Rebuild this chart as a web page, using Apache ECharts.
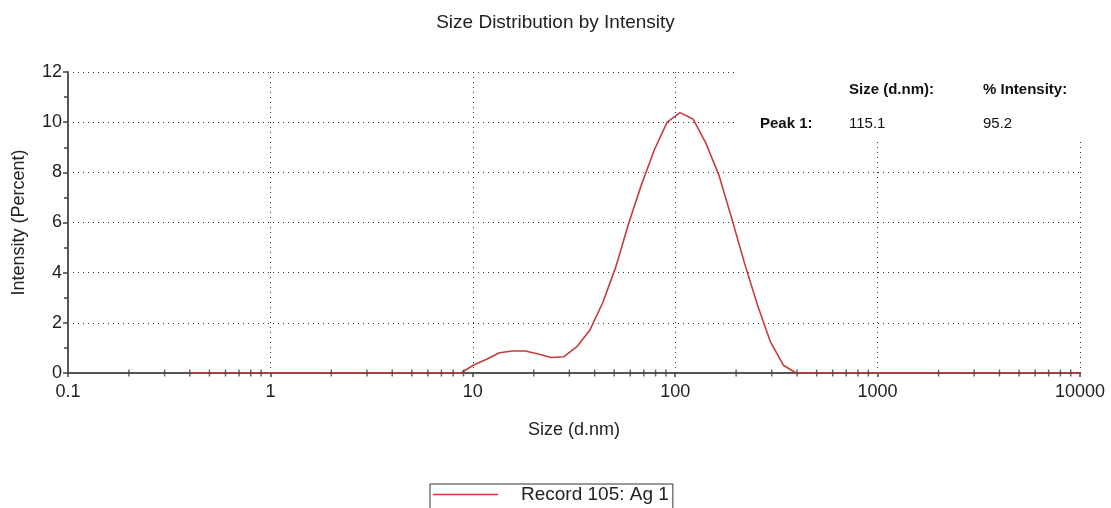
<!DOCTYPE html>
<html>
<head>
<meta charset="utf-8">
<script src="https://cdn.jsdelivr.net/npm/echarts@6/dist/echarts.min.js"></script>
<style>
html,body{margin:0;padding:0;background:#fff;}
#chart{width:1111px;height:508px;}
</style>
</head>
<body>
<div id="chart"></div>
<script>
// Size bins (d.nm) - standard logarithmic bins from 0.4 to 10000
var sizes = [0.4, 0.4632, 0.5365, 0.6213, 0.7195, 0.8332, 0.9649, 1.117, 1.294, 1.499,
  1.736, 2.01, 2.328, 2.696, 3.122, 3.615, 4.187, 4.849, 5.615, 6.503,
  7.531, 8.721, 10.1, 11.7, 13.54, 15.69, 18.17, 21.04, 24.36, 28.21,
  32.67, 37.84, 43.82, 50.75, 58.77, 68.06, 78.82, 91.28, 105.7, 122.4,
  141.8, 164.2, 190.1, 220.2, 255.0, 295.3, 342.0, 396.1, 458.7, 531.2,
  615.1, 712.4, 825.0, 955.4, 1106, 1281, 1484, 1718, 1990, 2305,
  2669, 3091, 3580, 4145, 4801, 5560, 6439, 7456, 8635, 10000];
// Intensity (%) per bin
var intensity = [0, 0, 0, 0, 0, 0, 0, 0, 0, 0,
  0, 0, 0, 0, 0, 0, 0, 0, 0, 0,
  0, 0, 0.32, 0.55, 0.81, 0.88, 0.88, 0.76, 0.62, 0.65,
  1.05, 1.7, 2.8, 4.2, 5.94, 7.5, 8.89, 10.0, 10.38, 10.13,
  9.16, 7.9, 6.17, 4.37, 2.71, 1.25, 0.31, 0, 0, 0,
  0, 0, 0, 0, 0, 0, 0, 0, 0, 0,
  0, 0, 0, 0, 0, 0, 0, 0, 0, 0];
var seriesName = 'Record 105: Ag 1';
var xTickLabels = ['0.1', '1', '10', '100', '1000', '10000'];
var peakHeaders = ['Size (d.nm):', '% Intensity:'];
var peakRowLabel = 'Peak 1:';
var peakValues = ['115.1', '95.2'];
var decades = [0.1, 1, 10, 100, 1000];
var minorMultipliers = [2, 3, 4, 5, 6, 7, 8, 9];

var lineData = sizes.map(function (s, i) { return [s, intensity[i]]; });
var minorTicks = [];
decades.forEach(function (d) {
  minorMultipliers.forEach(function (m) { minorTicks.push([d * m, 0]); });
});

var FONT = '"Liberation Sans", Arial, sans-serif';
var chart = echarts.init(document.getElementById('chart'));
chart.setOption({
  animation: false,
  backgroundColor: '#fff',
  textStyle: { fontFamily: FONT },
  title: {
    text: 'Size Distribution by Intensity',
    left: 'center',
    top: 8,
    textStyle: { fontFamily: FONT, fontSize: 19, fontWeight: 'normal', color: '#222' }
  },
  grid: { left: 68, right: 31, top: 72, bottom: 135, containLabel: false },
  legend: {
    left: 430,
    top: 484,
    orient: 'horizontal',
    padding: [1, 4, 30, 3],
    borderColor: '#333',
    borderWidth: 1,
    itemWidth: 65,
    itemHeight: 1.5,
    data: [{ name: seriesName, icon: 'rect' }],
    textStyle: { fontFamily: FONT, fontSize: 19, color: '#222', padding: [0, 0, 0, 18] }
  },
  xAxis: {
    type: 'log',
    logBase: 10,
    min: 0.1,
    max: 10000,
    name: 'Size (d.nm)',
    nameLocation: 'middle',
    nameGap: 48,
    nameTextStyle: { fontFamily: FONT, fontSize: 18, color: '#222' },
    axisLine: { show: true, onZero: false, lineStyle: { color: '#555', width: 2 } },
    axisTick: { show: true, length: 4, lineStyle: { color: '#444', width: 1.5 } },
    axisLabel: {
      fontFamily: FONT, fontSize: 18, color: '#222', margin: 10,
      formatter: function (v) {
        var idx = Math.round(Math.log10(v) + 1);
        return xTickLabels[idx] !== undefined ? xTickLabels[idx] : '';
      }
    },
    splitLine: { show: true, lineStyle: { color: '#333', type: [1, 4], width: 1 } }
  },
  yAxis: {
    type: 'value',
    min: 0,
    max: 12,
    interval: 2,
    name: 'Intensity (Percent)',
    nameLocation: 'middle',
    nameGap: 40,
    nameTextStyle: { fontFamily: FONT, fontSize: 18, color: '#222' },
    axisLine: { show: true, lineStyle: { color: '#555', width: 2 } },
    axisTick: { show: true, length: 5, lineStyle: { color: '#444', width: 1.5 } },
    minorTick: { show: true, splitNumber: 2, length: 4, lineStyle: { color: '#444', width: 1.5 } },
    axisLabel: { fontFamily: FONT, fontSize: 18, color: '#222', margin: 6 },
    splitLine: { show: true, lineStyle: { color: '#333', type: [1, 4], width: 1 } }
  },
  graphic: [
    { type: 'rect', z: 50, shape: { x: 738, y: 62, width: 373, height: 76 }, style: { fill: '#fff' } },
    { type: 'text', z: 51, left: 849, top: 82, style: { text: peakHeaders[0], font: 'bold 15px ' + FONT, fill: '#111' } },
    { type: 'text', z: 51, left: 983, top: 82, style: { text: peakHeaders[1], font: 'bold 15px ' + FONT, fill: '#111' } },
    { type: 'text', z: 51, left: 760, top: 116, style: { text: peakRowLabel, font: 'bold 15px ' + FONT, fill: '#111' } },
    { type: 'text', z: 51, left: 849, top: 116, style: { text: peakValues[0], font: '15px ' + FONT, fill: '#111' } },
    { type: 'text', z: 51, left: 983, top: 116, style: { text: peakValues[1], font: '15px ' + FONT, fill: '#111' } }
  ],
  series: [
    {
      name: seriesName,
      type: 'line',
      data: lineData,
      showSymbol: false,
      smooth: false,
      z: 3,
      color: '#c83c3c',
      lineStyle: { color: '#c83c3c', width: 1.6 }
    },
    {
      name: 'minorTicks',
      type: 'scatter',
      data: minorTicks,
      symbol: 'rect',
      symbolSize: [1.5, 7],
      itemStyle: { color: '#444' },
      silent: true,
      clip: false,
      z: 4
    }
  ]
});
</script>
</body>
</html>
